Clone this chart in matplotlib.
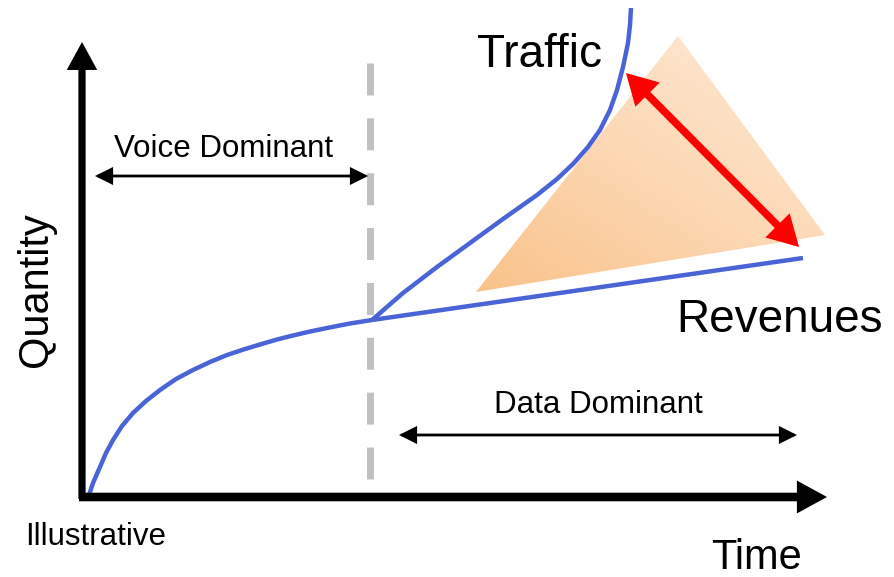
import numpy as np
import matplotlib
matplotlib.use("Agg")
import matplotlib.pyplot as plt
from matplotlib.patches import Polygon, FancyArrowPatch
from matplotlib.colors import LinearSegmentedColormap

plt.rcParams['font.family'] = ['Liberation Sans', 'DejaVu Sans']

# ---- data (in pixel-like units) ----
voice_x = [88, 93, 100, 106, 113, 122, 133, 146, 160, 176, 193, 210, 227, 245, 260, 277, 293, 310, 327, 350, 372]
voice_y = [498, 483, 467, 453, 440, 426, 413, 401, 390, 379, 370, 362, 355, 349, 344.5, 339.5, 335.5, 331.5, 328, 323.5, 320]
revenue_x = [372, 803]
revenue_y = [320, 258]
traffic_x = [372, 403, 437, 470, 503, 537, 557, 573, 588, 600, 610, 617, 623, 628, 630, 631]
traffic_y = [320, 293, 267, 243, 219, 195, 179, 164, 147, 130, 110, 90, 67, 43, 25, 8]
wedge_x = [476, 678, 825]
wedge_y = [292, 36, 235]
gap_arrow = [(626, 73), (799, 247)]
voice_span = [(95, 176), (368, 176)]
data_span = [(399, 435), (797, 435)]
divider_x = 370

W, H = 894, 577
fig = plt.figure(figsize=(W / 100, H / 100), dpi=100)
ax = fig.add_axes([0, 0, 1, 1])
ax.set_xlim(0, W)
ax.set_ylim(H, 0)
ax.axis('off')

# gradient wedge
poly = Polygon(list(zip(wedge_x, wedge_y)), closed=True, facecolor='none', edgecolor='none')
ax.add_patch(poly)
cmap = LinearSegmentedColormap.from_list('o', ['#f9c28a', '#fcd5ae', '#fde5cd'])
gx, gy = np.meshgrid(np.linspace(0, 1, 200), np.linspace(0, 1, 200))
grad = np.clip(gx * 0.55 + (1 - gy) * 0.65, 0, 1)
im = ax.imshow(grad, extent=[min(wedge_x), max(wedge_x), max(wedge_y), min(wedge_y)],
               cmap=cmap, aspect='auto', zorder=1)
im.set_clip_path(poly)

# axes arrows
for start, end, lw in (((82, 499), (82, 42), 5.2), ((79, 497), (827, 497), 6.2)):
    a = FancyArrowPatch(start, end, arrowstyle='-|>,head_length=0.55,head_width=0.3',
                        mutation_scale=22, lw=lw, color='black', zorder=5,
                        shrinkA=0, shrinkB=0, capstyle='butt', joinstyle='miter')
    ax.add_patch(a)

# dashed divider
ax.plot([divider_x, divider_x], [63, 487], color='#c0c0c0', lw=5, ls=(0, (4.6, 3.3)), zorder=2,
        solid_capstyle='butt', dash_capstyle='butt')

# curves
blue = '#4a63d6'
ax.plot(voice_x, voice_y, color=blue, lw=3.2, zorder=4, solid_capstyle='butt', solid_joinstyle='round')
ax.plot(revenue_x, revenue_y, color=blue, lw=3.2, zorder=4, solid_capstyle='butt')
ax.plot(traffic_x, traffic_y, color=blue, lw=3.2, zorder=4, solid_capstyle='butt', solid_joinstyle='round')

# red gap arrow
ax.add_patch(FancyArrowPatch(gap_arrow[0], gap_arrow[1],
                             arrowstyle='<|-|>,head_length=0.8,head_width=0.45',
                             mutation_scale=17, lw=5.5, color='#ff0000', zorder=6,
                             shrinkA=0, shrinkB=0, joinstyle='miter'))

# span arrows
for span in (voice_span, data_span):
    ax.add_patch(FancyArrowPatch(span[0], span[1], arrowstyle='<|-|>,head_length=0.7,head_width=0.35',
                                 mutation_scale=14, lw=2, color='black', zorder=6,
                                 shrinkA=0, shrinkB=0, joinstyle='miter'))

# texts
ax.text(224, 157, 'Voice Dominant', fontsize=22.5, ha='center', va='baseline')
ax.text(598, 413, 'Data Dominant', fontsize=22.5, ha='center', va='baseline')
ax.text(540, 67, 'Traffic', fontsize=33, ha='center', va='baseline')
ax.text(780, 332, 'Revenues', fontsize=33, ha='center', va='baseline')
ax.text(47, 290, 'Quantity', fontsize=30, ha='center', va='baseline', rotation=90,
        rotation_mode='anchor')
ax.text(756, 569, 'Time', fontsize=30, ha='center', va='baseline')
ax.text(96, 545, 'Illustrative', fontsize=22.5, ha='center', va='baseline')

fig.savefig('out.png', dpi=100)
